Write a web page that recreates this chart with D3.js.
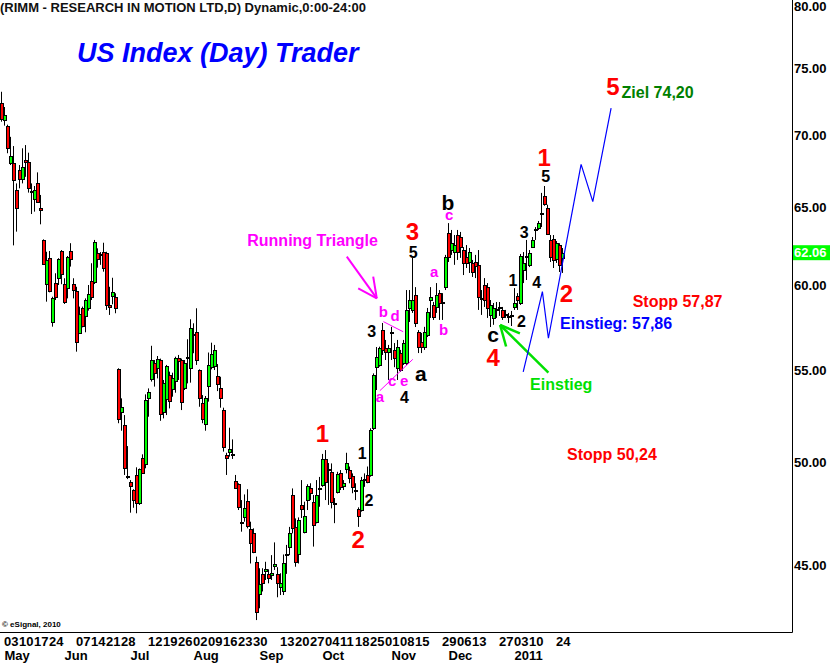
<!DOCTYPE html>
<html><head><meta charset="utf-8">
<script src="https://cdn.jsdelivr.net/npm/d3@7"></script>
<style>
body{margin:0;background:#fff}
svg{display:block}
text{font-family:"Liberation Sans",Arial,sans-serif;font-weight:bold}
</style>
</head><body>
<svg id="chart" width="830" height="663"></svg>
<script>
// ---- data (daily candles, Apr 30 2010 .. Jan 26 2011) ----
const opens = [72.38,71.14,70.70,68.08,68.04,66.20,67.57,66.95,68.25,68.16,66.05,65.57,66.65,65.00,62.88,60.08,61.71,57.78,60.14,60.45,
62.17,60.08,59.82,62.17,60.08,59.66,57.12,58.65,58.17,58.61,60.30,60.23,62.06,61.95,62.08,62.02,58.81,59.38,59.27,55.06,
52.69,51.97,49.32,49.01,48.61,49.37,47.98,50.22,49.91,53.42,54.51,55.42,55.10,55.57,52.66,53.37,54.72,53.92,54.40,55.67,
55.57,54.01,55.66,55.10,57.00,57.21,55.00,53.15,52.02,54.12,55.15,55.24,54.66,54.01,52.78,50.40,50.57,50.40,49.06,48.90,
47.03,47.29,48.06,46.68,46.49,45.15,43.68,44.57,44.74,44.57,44.54,44.97,44.59,43.98,43.83,45.48,45.86,48.36,46.78,45.51,
47.86,46.57,48.11,48.69,48.03,47.05,48.66,48.86,50.17,49.60,49.53,47.93,48.53,49.45,48.81,49.66,49.62,49.32,48.55,47.65,
47.62,49.12,49.37,49.37,51.81,55.16,55.29,57.31,56.26,56.03,57.11,56.15,55.11,55.97,55.40,55.40,58.63,58.51,59.41,57.20,
56.61,56.32,57.02,59.11,58.81,58.69,59.53,58.90,59.90,63.33,62.23,62.10,63.20,63.07,62.23,61.79,61.47,61.41,61.47,61.28,
59.20,60.03,59.90,58.21,58.03,58.48,58.60,58.51,58.18,58.06,58.12,58.69,59.35,58.93,60.96,61.76,61.28,62.42,63.56,63.66,
64.62,65.78,65.00,62.88,62.94,61.66,62.55,61.73];
const highs = [73.24,72.10,70.80,69.92,69.26,66.65,67.92,69.10,69.33,68.79,66.65,66.47,67.41,65.86,62.92,62.12,62.17,59.31,60.76,61.71,
62.23,60.45,61.85,62.67,60.45,59.92,58.71,58.71,59.21,60.03,61.39,62.88,62.34,62.10,62.70,62.12,59.92,60.48,59.52,55.10,
53.42,52.51,50.86,49.11,48.65,49.76,49.70,50.43,53.64,53.97,56.39,55.57,55.80,55.65,54.44,55.29,54.91,54.85,55.76,55.86,
55.65,55.57,56.77,57.95,57.71,58.61,55.04,53.60,53.55,56.00,56.57,56.44,55.34,54.62,52.91,50.51,51.83,51.21,49.37,48.95,
48.11,48.39,48.65,47.05,46.73,45.39,44.85,44.85,45.15,44.80,45.46,46.06,44.90,44.62,45.49,45.94,46.80,48.69,47.21,47.26,
49.11,48.03,48.90,48.95,48.36,49.11,49.27,50.45,50.65,49.98,49.96,48.21,49.53,49.62,49.11,50.51,49.80,49.45,48.95,47.75,
49.27,49.45,49.80,51.80,54.81,56.32,56.34,57.73,56.73,56.44,57.50,56.55,56.73,56.15,56.73,59.72,59.72,61.73,59.90,57.31,
57.14,57.50,58.63,59.90,58.99,60.15,59.72,59.53,61.92,63.98,63.53,63.20,63.53,63.40,62.42,62.55,62.36,61.60,61.92,62.23,
59.72,60.46,60.15,59.11,58.93,58.99,58.99,58.69,58.51,58.33,58.45,59.84,59.53,61.98,62.10,62.88,62.23,63.07,63.72,64.12,
66.00,66.47,65.20,63.20,63.20,62.81,62.67,62.36];
const lows = [71.02,70.73,68.75,67.92,62.53,63.42,66.31,66.65,67.10,66.02,64.58,64.74,65.34,63.90,61.29,59.01,59.58,57.51,59.11,60.03,
60.08,58.87,59.21,61.18,59.21,56.05,57.08,57.47,57.18,58.47,59.11,60.09,61.11,61.29,60.86,58.51,58.21,58.85,58.31,52.07,
51.67,49.37,49.16,47.49,47.73,47.46,47.87,49.45,49.71,52.42,54.35,54.07,54.53,52.20,52.33,52.51,52.87,53.51,53.73,54.44,
52.78,53.88,54.25,54.29,55.96,55.29,52.96,52.07,51.67,53.24,55.04,55.00,53.82,52.91,50.57,49.37,50.31,50.19,48.69,47.62,
46.57,47.05,46.73,45.07,45.55,42.52,43.04,43.79,44.31,44.16,44.31,44.77,43.53,43.63,43.63,44.59,45.46,46.49,44.92,45.07,
47.23,46.49,47.62,48.11,45.86,46.97,47.78,48.77,48.11,47.87,47.70,46.98,48.44,48.61,48.61,49.45,48.95,48.45,48.11,46.80,
47.54,48.77,48.95,49.28,51.71,53.88,55.19,55.86,55.57,54.44,55.57,55.16,54.44,54.89,55.29,55.29,57.79,58.33,57.49,55.97,
55.97,56.15,56.90,58.03,57.91,58.33,57.91,57.91,59.72,61.47,61.92,61.29,61.60,61.73,60.65,61.09,60.78,60.53,60.46,58.51,
58.21,58.69,58.03,57.49,57.62,58.03,58.15,57.91,58.03,57.73,57.55,58.51,58.51,58.81,60.15,60.34,61.15,62.36,62.88,63.53,
63.72,65.13,63.20,61.47,61.09,61.41,60.84,60.78];
const closes = [71.19,71.51,69.14,68.55,66.88,65.00,66.93,67.76,68.15,66.31,66.12,66.20,65.41,64.85,61.33,61.60,59.68,59.21,59.31,61.66,
60.70,59.01,61.81,61.66,59.72,56.60,58.25,57.57,59.11,59.46,59.31,62.73,61.64,61.99,61.07,58.81,58.67,59.58,58.61,52.28,
52.92,49.74,49.25,48.83,48.11,47.98,49.66,49.48,53.33,53.75,55.57,54.85,55.63,52.55,54.25,55.23,53.29,54.53,55.67,55.53,
53.21,55.38,55.74,57.46,57.06,55.57,53.42,52.28,53.42,55.29,55.92,56.15,54.20,53.42,50.83,50.26,50.70,50.46,48.72,47.78,
46.97,47.70,46.86,46.02,45.62,42.86,44.13,44.19,44.80,44.42,44.65,45.03,44.16,44.16,45.07,45.53,46.49,46.73,45.15,47.13,
47.65,47.32,48.81,48.45,46.89,48.36,48.72,50.17,49.02,49.65,48.03,47.98,49.40,48.77,48.97,49.96,49.20,48.74,48.60,47.32,
49.11,49.17,49.02,51.71,54.72,55.74,56.26,56.15,56.03,56.26,57.17,55.69,56.32,55.00,56.55,58.51,59.11,59.11,57.73,56.32,
56.32,57.20,58.39,59.29,58.09,59.41,58.93,58.96,61.79,61.79,62.67,62.55,62.10,62.42,61.41,61.41,62.10,60.84,61.22,59.29,
59.26,59.11,58.63,58.81,58.63,58.54,58.66,58.09,58.24,58.12,58.18,58.93,59.11,61.85,61.41,61.82,62.04,62.88,63.62,63.98,
64.68,65.26,63.27,61.79,61.60,62.67,61.28,62.06];

const yTicks = [45,50,55,60,65,70,75,80];
const lastPrice = 62.06;
const dayLabels = ["03","10","17","24","07","14","21","28","12","19","26","02","09","16","23","30",
  "13","20","27","04","11","18","25","01","08","15","29","06","13","27","03","10","24"];
const dayIndex = [1,6,11,16,25,30,35,40,49,54,59,64,69,74,79,84,93,98,103,108,113,118,123,128,133,138,147,152,157,166,171,176,185];
const monthLabels = ["May","Jun","Jul","Aug","Sep","Oct","Nov","Dec","2011"];
const monthIndex = [1,21,43,64,86,107,130,149,171];

// projected wave path (index, price)
const projIdx = [173.9,180.3,182.3,193.2,197.1,203.2];
const projPrice = [54.90,59.62,56.83,67.97,65.41,72.01];

// annotations: index, price, text, colour, size, anchor
const notes = [
  [103.7,62.52,"Running Triangle","#ff00ff",16,"middle"],
  [137.0,62.85,"3","#ff0000",24,"middle"],
  [137.2,61.73,"5","#000000",16,"middle"],
  [148.8,64.85,"b","#000000",21,"middle"],
  [149.2,64.20,"c","#ff00ff",15,"middle"],
  [144.2,60.53,"a","#ff00ff",15,"middle"],
  [147.4,57.02,"b","#ff00ff",15,"middle"],
  [123.4,56.90,"3","#000000",16,"middle"],
  [127.3,58.09,"b","#ff00ff",15,"middle"],
  [131.2,57.85,"d","#ff00ff",15,"middle"],
  [126.1,53.22,"a","#ff00ff",15,"middle"],
  [130.2,54.10,"c","#ff00ff",15,"middle"],
  [134.2,54.10,"e","#ff00ff",15,"middle"],
  [134.3,53.16,"4","#000000",16,"middle"],
  [139.8,54.38,"a","#000000",21,"middle"],
  [107.0,51.08,"1","#ff0000",24,"middle"],
  [118.9,45.80,"2","#ff0000",24,"middle"],
  [120.2,50.19,"1","#000000",16,"middle"],
  [122.5,47.82,"2","#000000",16,"middle"],
  [163.9,56.60,"c","#000000",21,"middle"],
  [163.9,55.25,"4","#ff0000",24,"middle"],
  [170.5,59.97,"1","#000000",16,"middle"],
  [173.3,57.50,"2","#000000",16,"middle"],
  [174.2,63.01,"3","#000000",16,"middle"],
  [178.4,59.84,"4","#000000",16,"middle"],
  [181.4,66.72,"5","#000000",16,"middle"],
  [180.9,67.85,"1","#ff0000",24,"middle"],
  [188.3,59.01,"2","#ff0000",24,"middle"],
  [203.8,73.00,"5","#ff0000",24,"middle"],
  [206.7,72.77,"Ziel 74,20","#008000",16,"start"],
  [210.4,58.69,"Stopp 57,87","#ff0000",16,"start"],
  [186.2,57.40,"Einstieg: 57,86","#0000ff",16,"start"],
  [176.2,53.88,"Einstieg","#00e000",16,"start"],
  [188.5,50.14,"Stopp 50,24","#ff0000",16,"start"]
];
// helper lines: [[i,p],[i,p]], colour, width
const guides = [
  [[[127.3,57.81],[133.9,57.21]],"#ff00ff",1],
  [[[126.1,53.84],[137.1,55.61]],"#ff00ff",1],
  [[[115.1,61.81],[125.1,59.21]],"#ff00ff",2],
  [[[118.9,59.82],[125.1,59.21]],"#ff00ff",2],
  [[[123.9,60.55],[125.1,59.21]],"#ff00ff",2],
  [[[182.3,54.85],[166.2,57.61]],"#00e000",2.5],
  [[[172.8,57.11],[166.2,57.61]],"#00e000",2.5],
  [[[168.2,56.35],[166.2,57.61]],"#00e000",2.5]
];

// ---- drawing ----
const svg = d3.select("#chart");
const W = 830, H = 663, axisX = 792.5, axisY = 632.5;
const x = d3.scaleLinear().domain([0, 263]).range([1.5, 790.5]);
const y = d3.scaleLog().domain([45, 80]).range([565, 6]);

svg.append("rect").attr("width", W).attr("height", H).attr("fill", "#fff");

const plot = svg.append("g");
const idx = d3.range(opens.length);

// wicks
plot.selectAll("line.wick").data(idx).enter().append("line")
  .attr("x1", i => x(i)).attr("x2", i => x(i))
  .attr("y1", i => y(highs[i])).attr("y2", i => y(lows[i]))
  .attr("stroke", "#000").attr("stroke-width", 1);

// bodies
plot.selectAll("rect.body").data(idx).enter().append("rect")
  .attr("x", i => x(i) - 1)
  .attr("width", 3)
  .attr("y", i => Math.round(y(Math.max(opens[i], closes[i]))) + 0.5)
  .attr("height", i => Math.max(1, Math.round(y(Math.min(opens[i], closes[i]))) - Math.round(y(Math.max(opens[i], closes[i])))))
  .attr("fill", i => closes[i] >= opens[i] ? "#00ff00" : "#ff0000")
  .attr("stroke", "#000").attr("stroke-width", 1);

// guides
const line = d3.line().x(d => x(d[0])).y(d => y(d[1]));
guides.forEach(g => {
  plot.append("path").attr("d", line(g[0])).attr("fill", "none")
    .attr("stroke", g[1]).attr("stroke-width", g[2]);
});
// projected path
plot.append("path")
  .attr("d", line(projIdx.map((v, k) => [v, projPrice[k]])))
  .attr("fill", "none").attr("stroke", "#0000ff").attr("stroke-width", 1.2);

// annotations
plot.selectAll("text.note").data(notes).enter().append("text")
  .attr("x", d => x(d[0])).attr("y", d => y(d[1]))
  .attr("fill", d => d[3]).attr("font-size", d => d[4])
  .attr("text-anchor", d => d[5]).text(d => d[2]);

// axes lines
svg.append("line").attr("x1", axisX).attr("x2", axisX).attr("y1", 0).attr("y2", axisY)
  .attr("stroke", "#000").attr("stroke-width", 1);
svg.append("line").attr("x1", 0).attr("x2", axisX).attr("y1", axisY).attr("y2", axisY)
  .attr("stroke", "#000").attr("stroke-width", 1);

// y tick labels
svg.selectAll("text.ytick").data(yTicks).enter().append("text")
  .attr("x", 794).attr("y", d => y(d) + 4.5)
  .attr("font-size", 13).attr("fill", "#000")
  .text(d => d3.format(".2f")(d));

// last price marker
svg.append("rect").attr("x", 793).attr("y", y(lastPrice) - 7.5).attr("width", 37).attr("height", 15)
  .attr("fill", "#00ff00");
svg.append("text").attr("x", 794).attr("y", y(lastPrice) + 4.5)
  .attr("font-size", 13).attr("fill", "#fff").text(d3.format(".2f")(lastPrice));

// x labels
svg.selectAll("text.day").data(dayLabels).enter().append("text")
  .attr("x", (d, k) => x(dayIndex[k]) - 0.5).attr("y", 646)
  .attr("font-size", 13).attr("fill", "#000").text(d => d);
svg.selectAll("text.month").data(monthLabels).enter().append("text")
  .attr("x", (d, k) => x(monthIndex[k])).attr("y", 660)
  .attr("font-size", 13).attr("fill", "#000").text(d => d);

// titles
svg.append("text").attr("x", 0).attr("y", 12).attr("font-size", 13).attr("fill", "#111")
  .text("(RIMM - RESEARCH IN MOTION LTD,D) Dynamic,0:00-24:00");
svg.append("text").attr("x", 77).attr("y", 62).attr("font-size", 27).attr("font-style", "italic")
  .attr("fill", "#0000ff").text("US Index (Day) Trader");
svg.append("text").attr("x", 2).attr("y", 627).attr("font-size", 8).attr("font-weight", "normal")
  .attr("fill", "#000").text("© eSignal, 2010");
</script>
</body></html>
